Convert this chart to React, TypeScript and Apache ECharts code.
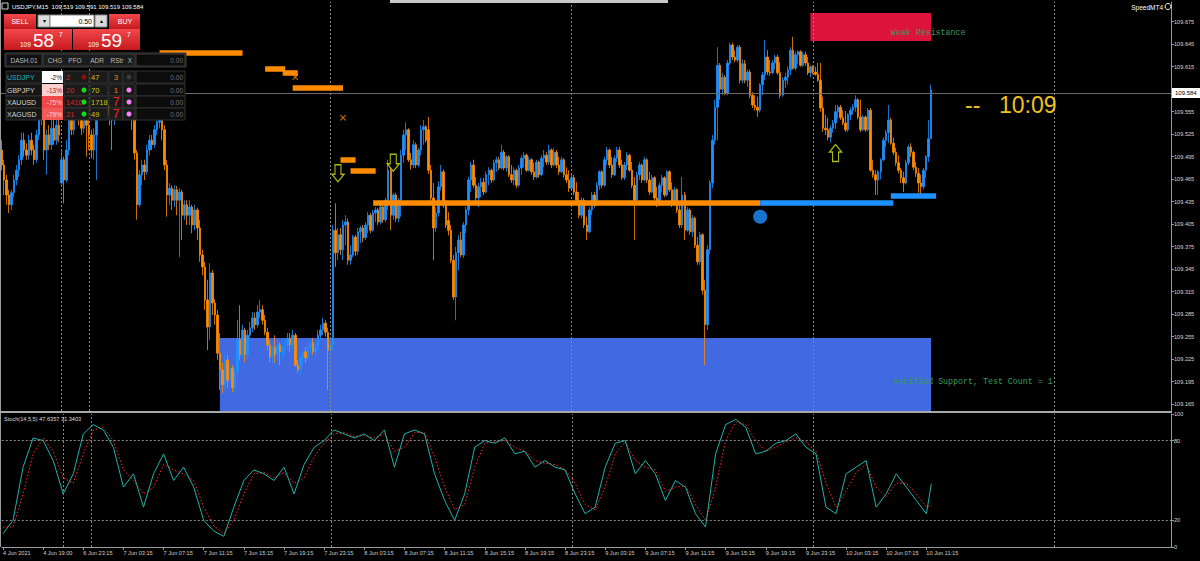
import React, { useEffect, useRef } from "react";
import * as echarts from "echarts";

// Prices are stored in thousandths above BASE (e.g. 584 -> 109.584). Rows: [open, close, low, high]
const BASE = 109;
const ohlc: number[][] = [
  [504,484,477,517],[484,464,444,491],[464,444,431,471],[444,431,420,451],[431,447,424,451],[447,464,441,471],[464,477,457,484],[477,491,468,497],
  [491,517,484,527],[517,504,495,527],[504,497,491,513],[497,517,491,524],[517,504,497,527],[504,491,484,511],[491,524,487,531],[524,544,517,553],
  [544,553,537,564],[553,504,491,557],[504,524,471,531],[524,511,504,537],[511,533,504,544],[533,517,511,544],[517,537,511,551],[537,524,514,544],
  [460,491,457,504],[491,464,433,495],[464,504,461,517],[504,544,497,557],[544,531,524,557],[531,551,524,564],[551,560,544,571],[560,547,537,571],
  [547,533,524,555],[533,551,527,561],[551,537,495,557],[537,524,504,547],[524,504,493,531],[504,524,491,533],[524,557,464,564],[557,571,551,581],
  [571,560,551,577],[560,577,555,587],[577,564,557,584],[564,551,537,571],[551,544,504,561],[544,564,537,573],[564,575,557,584],[575,557,548,581],
  [557,571,551,580],[571,555,547,577],[555,567,544,575],[567,573,557,581],[573,544,531,577],[544,500,491,551],[500,431,411,504],[431,471,428,477],
  [471,484,457,491],[484,475,464,491],[475,504,471,511],[504,517,497,524],[517,511,504,524],[511,531,507,537],[531,541,524,548],[541,551,533,557],
  [551,531,517,557],[531,484,477,537],[484,444,415,491],[444,453,431,460],[453,437,424,457],[437,451,428,457],[451,437,417,456],[437,448,361,453],
  [448,417,384,451],[417,431,411,437],[431,417,404,437],[417,428,404,437],[428,404,393,431],[404,424,397,431],[424,400,384,427],[400,364,355,411],
  [364,348,337,371],[348,304,291,355],[304,268,237,331],[268,340,251,353],[340,300,284,344],[300,284,271,305],[284,233,224,291],[233,211,184,260],
  [211,191,180,220],[191,224,184,231],[224,197,187,231],[197,213,191,220],[213,187,181,217],[187,208,181,217],[208,251,201,277],[251,231,224,297],
  [231,264,227,271],[264,231,221,267],[231,257,224,264],[257,267,251,275],[267,280,261,288],[280,271,264,287],[271,288,267,297],[288,291,280,304],
  [291,277,271,297],[277,261,257,284],[261,244,237,267],[244,228,221,251],[228,241,220,244],[241,231,220,257],[231,244,224,251],[244,235,217,247],
  [235,241,224,244],[241,244,229,251],[244,253,237,260],[253,244,235,260],[244,257,237,264],[257,217,215,260],[217,211,207,224],[211,227,204,231],
  [227,235,217,237],[235,227,220,241],[227,241,224,247],[241,247,233,251],[247,235,231,253],[235,240,228,247],[240,257,237,264],[257,264,251,271],
  [264,273,257,280],[273,261,255,277],[261,237,184,267],[237,244,233,251],[244,397,237,404],[397,367,348,433],[367,391,357,400],[391,371,364,400],
  [371,404,357,411],[404,408,377,417],[408,357,351,413],[357,364,351,377],[364,388,361,391],[388,369,363,391],[369,395,364,400],[395,400,380,403],
  [400,387,381,404],[387,404,384,408],[404,417,393,421],[417,397,393,420],[397,420,395,424],[420,424,408,428],[424,408,404,427],[408,428,405,432],
  [428,411,407,431],[411,437,408,440],[437,477,424,491],[477,417,397,480],[417,444,411,447],[444,413,408,447],[413,437,408,440],[437,497,415,504],
  [497,524,487,531],[524,531,504,541],[531,491,488,533],[491,484,478,500],[484,511,480,517],[511,484,480,514],[484,504,481,507],[504,531,497,537],
  [531,535,511,544],[535,517,514,537],[531,477,472,548],[477,440,431,484],[440,400,357,460],[400,420,395,428],[420,455,415,462],[455,475,450,484],
  [475,431,427,478],[431,404,400,437],[410,397,390,421],[397,357,353,404],[357,308,304,364],[308,367,277,375],[367,384,344,391],[384,364,361,395],
  [364,404,360,408],[404,424,393,428],[424,464,417,468],[464,484,448,488],[484,457,453,491],[457,440,435,468],[440,455,428,460],[455,461,441,467],
  [461,448,444,467],[448,471,446,475],[471,477,457,481],[477,464,460,479],[464,487,462,491],[487,491,475,495],[491,480,477,495],[480,501,478,511],
  [501,480,477,504],[480,495,475,497],[495,471,468,497],[471,464,460,484],[464,477,457,481],[477,457,453,479],[457,480,455,484],[480,493,471,497],
  [493,497,481,501],[497,477,475,499],[477,491,475,495],[491,475,471,493],[475,468,464,487],[468,488,466,491],[488,471,467,490],[471,493,469,497],
  [493,497,481,504],[497,488,484,501],[488,504,484,511],[504,484,480,506],[484,501,482,507],[501,484,480,504],[484,475,471,495],[475,491,473,495],
  [491,471,467,493],[471,464,460,481],[464,453,448,477],[453,467,451,471],[467,448,444,471],[448,437,433,461],[437,417,413,448],[417,437,413,441],
  [437,404,400,440],[404,395,384,415],[395,424,393,428],[424,444,417,448],[444,431,427,448],[431,457,429,461],[457,475,451,477],[475,457,453,477],
  [457,491,455,495],[491,504,484,508],[504,484,480,506],[484,471,467,495],[471,493,469,497],[493,504,488,508],[504,484,480,508],[484,467,464,491],
  [467,484,464,488],[484,497,477,501],[497,477,475,499],[477,457,453,488],[457,437,384,468],[437,471,435,475],[471,484,464,488],[484,464,460,486],
  [464,491,462,495],[491,464,460,493],[464,448,444,475],[448,467,446,471],[467,440,437,469],[440,431,428,455],[431,457,429,461],[457,467,448,471],
  [467,444,441,469],[444,475,442,477],[475,451,448,477],[451,431,428,461],[431,451,429,455],[451,424,420,453],[424,404,400,435],[404,444,400,468],
  [444,397,384,448],[397,424,395,428],[424,395,391,426],[395,413,388,417],[413,377,373,415],[377,355,351,388],[355,391,351,395],[391,317,311,393],
  [317,271,217,331],[271,371,264,377],[371,460,365,464],[460,517,453,524],[517,561,511,571],[561,617,517,641],[617,585,571,620],[585,601,577,607],
  [601,580,577,604],[580,620,577,624],[620,644,617,647],[644,628,624,647],[628,624,621,637],[624,641,621,644],[641,597,593,644],[597,619,593,625],
  [619,597,593,624],[597,608,588,611],[608,577,573,611],[577,564,560,581],[564,561,557,577],[561,557,548,575],[557,591,554,593],[591,604,577,608],
  [604,628,597,651],[628,608,604,637],[608,607,603,624],[607,620,605,624],[620,628,611,631],[628,607,604,631],[607,577,573,621],[577,597,575,601],
  [597,601,587,607],[601,611,591,615],[611,637,604,641],[637,613,611,655],[613,631,610,635],[631,635,619,637],[635,617,615,637],[617,631,615,635],
  [631,620,616,635],[620,607,604,628],[607,615,601,617],[615,608,605,617],[608,605,603,615],[605,597,595,620],[597,560,555,620],[560,533,528,575],
  [533,531,524,551],[531,521,517,547],[521,533,514,537],[533,540,527,544],[540,555,532,564],[555,561,545,564],[561,547,544,564],[547,540,537,557],
  [540,531,528,556],[531,551,528,553],[551,557,544,561],[557,561,551,565],[561,571,555,577],[571,548,545,573],[548,531,528,571],[531,548,529,551],
  [548,531,528,550],[531,557,529,560],[557,477,475,560],[477,471,467,491],[471,464,444,477],[464,475,444,477],[475,491,465,493],[491,517,489,521],
  [517,527,508,531],[527,544,513,564],[544,513,511,547],[513,501,497,520],[501,487,483,507],[487,477,473,497],[477,467,460,480],[467,460,448,475],
  [460,487,458,491],[487,508,484,511],[508,501,495,513],[501,481,477,503],[481,473,468,488],[473,460,447,480],[460,455,444,471],[455,477,451,480],
  [477,495,467,497],[495,519,488,544],[519,584,519,591]
];

const timeLabels = [
  "4 Jun 2021", "4 Jun 19:00", "6 Jun 23:15", "7 Jun 03:15", "7 Jun 07:15", "7 Jun 11:15", "7 Jun 15:15", "7 Jun 19:15",
  "7 Jun 23:15", "8 Jun 03:15", "8 Jun 07:15", "8 Jun 11:15", "8 Jun 15:15", "8 Jun 19:15", "8 Jun 23:15", "9 Jun 03:15",
  "9 Jun 07:15", "9 Jun 11:15", "9 Jun 15:15", "9 Jun 19:15", "9 Jun 23:15", "10 Jun 03:15", "10 Jun 07:15", "10 Jun 11:15"
];
const priceTicks = [109.165, 109.195, 109.225, 109.255, 109.285, 109.315, 109.345, 109.375, 109.405, 109.435, 109.465, 109.495, 109.525, 109.555, 109.615, 109.645, 109.675];
const stochTicks = [0, 20, 80, 100];
const dayBreaks = [24, 35, 131, 227, 323, 419];
const lastPrice = 109.584;

// Stochastic readings every 4 bars (bar 0, 4, ... 368) plus the last bar (370)
const stochMain = [10,20,60,82,80,65,40,55,85,92,88,75,45,55,30,55,70,50,60,45,20,12,8,30,50,58,55,50,60,40,62,75,80,88,85,82,85,80,88,60,85,88,85,55,35,20,40,75,80,78,82,70,72,60,65,60,58,40,25,30,60,78,80,55,65,55,35,50,45,25,15,70,92,96,90,70,72,78,80,85,75,70,30,25,55,60,65,30,40,55,45,35,25,47.6357];
const stochSignal = [15,15,40,70,82,72,52,48,70,88,90,80,58,50,40,45,62,58,55,50,30,16,10,20,40,55,56,52,56,48,52,68,78,85,86,83,84,82,85,72,75,86,86,68,45,28,32,60,78,79,80,75,72,65,63,62,58,48,32,28,45,70,79,65,60,58,42,45,46,32,20,45,80,94,92,80,72,75,79,82,79,72,48,30,42,56,62,45,38,48,48,40,30,31.3403];

// Zones: [startBar, endBar, price]
const orangeZones = [[63, 96, 109.633], [105, 113, 109.612], [112, 118, 109.607], [116, 136, 109.587], [135, 141, 109.491], [139, 149, 109.476], [148, 302, 109.434]];
const blueZones = [[302, 355, 109.434], [354, 372, 109.443]];
const supportZone = [87, 370, 109.156, 109.2533];
const resistanceZone = [322, 370, 109.6493, 109.6867];
const downArrows = [[134, 109.473], [156, 109.487]];
const upArrows = [[332, 109.5]];
const crossMarks = [[117, 109.601], [136, 109.547]];
const pivotDot = [[302, 109.415]];

const dashSymbols = ["USDJPY", "GBPJPY", "XAUUSD", "XAGUSD"];
const dashChg = ["-2%", "-13%", "-75%", "-79%"];
const dashPfo = ["2", "20", "1410", "21"];
const dashAdr = ["47", "70", "1718", "49"];
const dashRstr = ["3", "1", "7", "7"];

const BAR_COUNT = 466;
const FONT = 'Arial, "Liberation Sans", sans-serif';
const UP = "#1e90ff";
const DOWN = "#ff8c00";

function txt(x: number, y: number, text: string, size: number, fill: string, align = "left", extra: any = {}) {
  return {
    type: "text", x, y, z: 100,
    style: { text, fill, font: `${extra.weight || "normal"} ${size}px ${extra.family || FONT}`, align, verticalAlign: "middle", textAlign: align, textVerticalAlign: "middle" },
  };
}
function rect(x: number, y: number, w: number, h: number, fill: any, stroke?: string) {
  return { type: "rect", z: 99, shape: { x, y, width: w, height: h }, style: { fill, stroke: stroke || null, lineWidth: stroke ? 1 : 0 } };
}

export default function App() {
  const ref = useRef<HTMLDivElement>(null);
  useEffect(() => {
    if (!ref.current) return;
    const chart = echarts.init(ref.current, null, { renderer: "svg" });
    const cats = Array.from({ length: BAR_COUNT }, (_, i) => String(i));
    const candles = ohlc.map((r) => r.map((v) => +(BASE + v / 1000).toFixed(3)));
    const stochBars = stochMain.map((_, k) => (k < stochMain.length - 1 ? k * 4 : 370));
    const showTime = (i: number) => i % 16 === 0 && i / 16 < timeLabels.length;

    const redGrad = () => new echarts.graphic.LinearGradient(0, 0, 0, 1, [
      { offset: 0, color: "#f2474b" }, { offset: 1, color: "#c41a1e" },
    ]);

    const gfx: any[] = [];
    // frame bits
    gfx.push({ type: "rect", z: 90, shape: { x: 390, y: 0, width: 278, height: 3 }, style: { fill: "#c8c8c8" } });
    gfx.push({ type: "line", z: 90, shape: { x1: 0.5, y1: 0, x2: 0.5, y2: 547 }, style: { stroke: "#9a9a9a", lineWidth: 1 } });
    gfx.push({ type: "rect", z: 90, shape: { x: 0, y: 411, width: 1172, height: 2 }, style: { fill: "#a8a8a8" } });
    // title
    gfx.push({ type: "rect", z: 100, shape: { x: 2, y: 3, width: 6, height: 6 }, style: { fill: "none", stroke: "#cfcfcf", lineWidth: 1 } });
    gfx.push(txt(12, 6.5, "USDJPY,M15  109.519 109.591 109.519 109.584", 6, "#ffffff"));
    gfx.push(txt(1163, 7, "SpeedMT4", 6.5, "#ffffff", "right"));
    gfx.push({ type: "circle", z: 100, shape: { cx: 1168, cy: 6.5, r: 3 }, style: { fill: "none", stroke: "#ffffff", lineWidth: 1 } });
    // trade panel
    gfx.push(rect(4, 14, 32, 15, redGrad()));
    gfx.push(txt(20, 21.5, "SELL", 7, "#ffffff", "center"));
    gfx.push(rect(38, 15, 12, 12, "#dcdcdc", "#888"));
    gfx.push(txt(44, 21, "▾", 6, "#000", "center"));
    gfx.push(rect(50, 15, 44, 12, "#ffffff", "#888"));
    gfx.push(txt(92, 21, "0.50", 7, "#000", "right"));
    gfx.push(rect(95, 15, 12, 12, "#dcdcdc", "#888"));
    gfx.push(txt(101, 21, "▴", 6, "#000", "center"));
    gfx.push(rect(109, 14, 31, 15, redGrad()));
    gfx.push(txt(125, 21.5, "BUY", 7, "#ffffff", "center"));
    gfx.push(rect(4, 29, 68, 21, redGrad()));
    gfx.push(txt(20, 44, "109", 6.5, "#ffffff"));
    gfx.push(txt(33, 40, "58", 19, "#ffffff"));
    gfx.push(txt(59, 34, "7", 6.5, "#ffffff"));
    gfx.push(rect(73, 29, 67, 21, redGrad()));
    gfx.push(txt(88, 44, "109", 6.5, "#ffffff"));
    gfx.push(txt(101, 40, "59", 19, "#ffffff"));
    gfx.push(txt(127, 34, "7", 6.5, "#ffffff"));
    // dashboard
    gfx.push(rect(5, 53, 181, 14, "#0c0c0c", "#3c3c3c"));
    gfx.push(rect(6, 54, 36, 12, "#111", "#3c3c3c"));
    gfx.push(txt(24, 60, "DASH.01", 6.5, "#bbbbbb", "center"));
    gfx.push(rect(43, 54, 92, 12, "#1c1c1c", "#3c3c3c"));
    [["CHG", 55], ["PFO", 75], ["ADR", 97], ["RStr", 117], ["X", 130]].forEach(([t, x]) => gfx.push(txt(x as number, 60, t as string, 6.5, "#bbbbbb", "center")));
    gfx.push(rect(136, 54, 49, 12, "#0c0c0c", "#3c3c3c"));
    gfx.push(txt(183, 60, "0.00", 6.5, "#707070", "right"));
    const rowY = [71, 84, 96, 108];
    const symColor = ["#19b5c8", "#d0d0d0", "#d0d0d0", "#d0d0d0"];
    const chgBg = ["#ffffff", "#f9cfcf", "#f04848", "#f25a5a"];
    const chgFg = ["#111111", "#b02020", "#ffd8d8", "#ffd8d8"];
    const pfoDot = ["#8b1010", "#11e011", "#11e011", "#11e011"];
    const xDot = ["#3a3a3a", "#ff80ff", "#ff80ff", "#ff80ff"];
    const rstrColor = ["#e08a20", "#e08a20", "#ff2020", "#ff2020"];
    const rstrSize = [8, 8, 12, 12];
    rowY.forEach((y, r) => {
      const cy = y + 6;
      gfx.push(rect(6, y, 36, 12, "#161616", "#333"));
      gfx.push(txt(7, cy, dashSymbols[r], 7, symColor[r]));
      gfx.push(rect(42, y, 21, 12, chgBg[r]));
      gfx.push(txt(62, cy, dashChg[r], 6.5, chgFg[r], "right"));
      gfx.push(rect(64, y, 25, 12, "#1a1a1a", "#333"));
      gfx.push(txt(66, cy, dashPfo[r], 7.5, "#e02020"));
      gfx.push({ type: "circle", z: 101, shape: { cx: 84, cy, r: 2.5 }, style: { fill: pfoDot[r] } });
      gfx.push(rect(90, y, 18, 12, "#1a1a1a", "#333"));
      gfx.push(txt(91, cy, dashAdr[r], 7.5, "#c8c800"));
      gfx.push(rect(109, y, 14, 12, "#1a1a1a", "#333"));
      gfx.push(txt(116, cy, dashRstr[r], rstrSize[r], rstrColor[r], "center"));
      gfx.push(rect(123, y, 12, 12, "#1a1a1a", "#333"));
      gfx.push({ type: "circle", z: 101, shape: { cx: 129, cy, r: 2.5 }, style: { fill: xDot[r] } });
      gfx.push(rect(136, y, 49, 12, "#0c0c0c", "#333"));
      gfx.push(txt(183, cy, "0.00", 6.5, "#707070", "right"));
    });
    // countdown
    gfx.push(txt(965, 105, "--", 23, "#f0c020"));
    gfx.push(txt(999, 105, "10:09", 23, "#f0c020"));
    // stoch label
    gfx.push(txt(4, 418.5, "Stoch(14,5,5) 47.6357 31.3403", 5.6, "#dddddd"));

    const zoneLine = (z: number[], color: string) => [
      { coord: [z[0], z[2]], lineStyle: { color, width: 5.5, type: "solid" }, label: { show: false } },
      { coord: [z[1], z[2]] },
    ];

    const option: any = {
      animation: false,
      backgroundColor: "#000000",
      grid: [
        { left: 0, top: 2, width: 1171, height: 409 },
        { left: 0, top: 414, width: 1171, height: 133 },
      ],
      xAxis: [
        { type: "category", gridIndex: 0, data: cats, boundaryGap: true, axisLine: { show: false }, axisTick: { show: false }, axisLabel: { show: false }, splitLine: { show: false } },
        {
          type: "category", gridIndex: 1, data: cats, boundaryGap: true,
          axisLine: { show: true, lineStyle: { color: "#9a9a9a" } },
          axisTick: { show: true, alignWithLabel: true, interval: (i: number) => showTime(i), length: 3, lineStyle: { color: "#9a9a9a" } },
          axisLabel: { show: true, interval: (i: number) => showTime(i), formatter: (v: string) => timeLabels[Number(v) / 16] || "", align: "left", color: "#d0d0d0", fontSize: 5.6, fontFamily: FONT, margin: 3 },
          splitLine: { show: false },
        },
      ],
      yAxis: [
        {
          type: "value", gridIndex: 0, position: "right", min: 109.156, max: 109.70133, splitLine: { show: false },
          axisLine: { show: true, lineStyle: { color: "#9a9a9a" } },
          axisTick: { show: true, customValues: priceTicks, length: 3, lineStyle: { color: "#9a9a9a" } },
          axisLabel: { customValues: priceTicks, formatter: (v: number) => v.toFixed(3), color: "#d8d8d8", fontSize: 5.6, fontFamily: FONT, margin: 3 },
        },
        {
          type: "value", gridIndex: 1, position: "right", min: 0, max: 100, splitLine: { show: false },
          axisLine: { show: true, lineStyle: { color: "#9a9a9a" } },
          axisTick: { show: true, customValues: stochTicks, length: 3, lineStyle: { color: "#9a9a9a" } },
          axisLabel: { customValues: stochTicks, color: "#d8d8d8", fontSize: 5.6, fontFamily: FONT, margin: 3 },
        },
      ],
      series: [
        {
          type: "candlestick", xAxisIndex: 0, yAxisIndex: 0, data: candles, barWidth: 2, z: 3,
          itemStyle: { color: UP, color0: DOWN, borderColor: UP, borderColor0: DOWN, borderWidth: 0.8 },
          markArea: {
            silent: true, z: 1,
            data: [
              [{ coord: [supportZone[0], supportZone[2]], itemStyle: { color: "#4169e1" } }, { coord: [supportZone[1], supportZone[3]] }],
              [{ coord: [resistanceZone[0], resistanceZone[2]], itemStyle: { color: "#dc143c" } }, { coord: [resistanceZone[1], resistanceZone[3]] }],
            ],
          },
          markLine: {
            silent: true, symbol: ["none", "none"], animation: false,
            data: [
              ...dayBreaks.map((b) => ({ xAxis: b, lineStyle: { color: "#8a8a8a", type: [2, 2], width: 1 }, label: { show: false } })),
              { yAxis: lastPrice, lineStyle: { color: "#6a6a6a", type: "solid", width: 1 },
                label: { show: true, position: "end", formatter: "109.584", backgroundColor: "#ffffff", color: "#000000", fontSize: 6, fontFamily: FONT, padding: [2, 4, 2, 3], distance: 1 } },
              ...orangeZones.map((z) => zoneLine(z, DOWN)),
              ...blueZones.map((z) => zoneLine(z, UP)),
            ],
          },
          markPoint: {
            silent: true, symbol: "circle", symbolSize: 0,
            label: { show: true, position: "right", distance: 0, fontFamily: '"Liberation Mono", "DejaVu Sans Mono", monospace', fontSize: 8.3, color: "#3a9a5c" },
            data: [
              { coord: [354, 109.6613], label: { formatter: "Weak Resistance" } },
              { coord: [355, 109.1947], label: { formatter: "Verified Support, Test Count = 1" } },
            ],
          },
        },
        {
          type: "scatter", xAxisIndex: 0, yAxisIndex: 0, z: 6, data: downArrows,
          symbol: "path://M3,0L9,0L9,9L12,9L6,16L0,9L3,9Z", symbolSize: [12, 17],
          itemStyle: { color: "rgba(0,0,0,0)", borderColor: "#d6e80a", borderWidth: 1.3 },
        },
        {
          type: "scatter", xAxisIndex: 0, yAxisIndex: 0, z: 6, data: upArrows,
          symbol: "path://M6,0L12,7L9,7L9,16L3,16L3,7L0,7Z", symbolSize: [12, 17],
          itemStyle: { color: "rgba(0,0,0,0)", borderColor: "#d6e80a", borderWidth: 1.3 },
        },
        {
          type: "scatter", xAxisIndex: 0, yAxisIndex: 0, z: 6, data: crossMarks,
          symbol: "path://M0,1L1,0L4,3L7,0L8,1L5,4L8,7L7,8L4,5L1,8L0,7L3,4Z", symbolSize: 6,
          itemStyle: { color: DOWN },
        },
        {
          type: "scatter", xAxisIndex: 0, yAxisIndex: 0, z: 6, data: pivotDot, symbol: "circle", symbolSize: 14,
          itemStyle: { color: UP },
        },
        {
          type: "line", xAxisIndex: 1, yAxisIndex: 1, z: 4, showSymbol: false,
          data: stochMain.map((v, k) => [stochBars[k], v]),
          lineStyle: { color: "#20b2aa", width: 1 },
          markLine: {
            silent: true, symbol: ["none", "none"],
            lineStyle: { color: "#8a8a8a", type: [2, 2], width: 1 }, label: { show: false },
            data: [...dayBreaks.map((b) => ({ xAxis: b })), { yAxis: 20 }, { yAxis: 80 }],
          },
        },
        {
          type: "line", xAxisIndex: 1, yAxisIndex: 1, z: 3, showSymbol: false,
          data: stochSignal.map((v, k) => [stochBars[k], v]),
          lineStyle: { color: "#ff2a2a", width: 1, type: [1.5, 2] },
        },
      ],
      graphic: { elements: gfx },
    };
    chart.setOption(option);
    return () => chart.dispose();
  }, []);
  return <div ref={ref} style={{ position: "fixed", left: 0, top: 0, width: 1200, height: 561, background: "#000" }} />;
}
